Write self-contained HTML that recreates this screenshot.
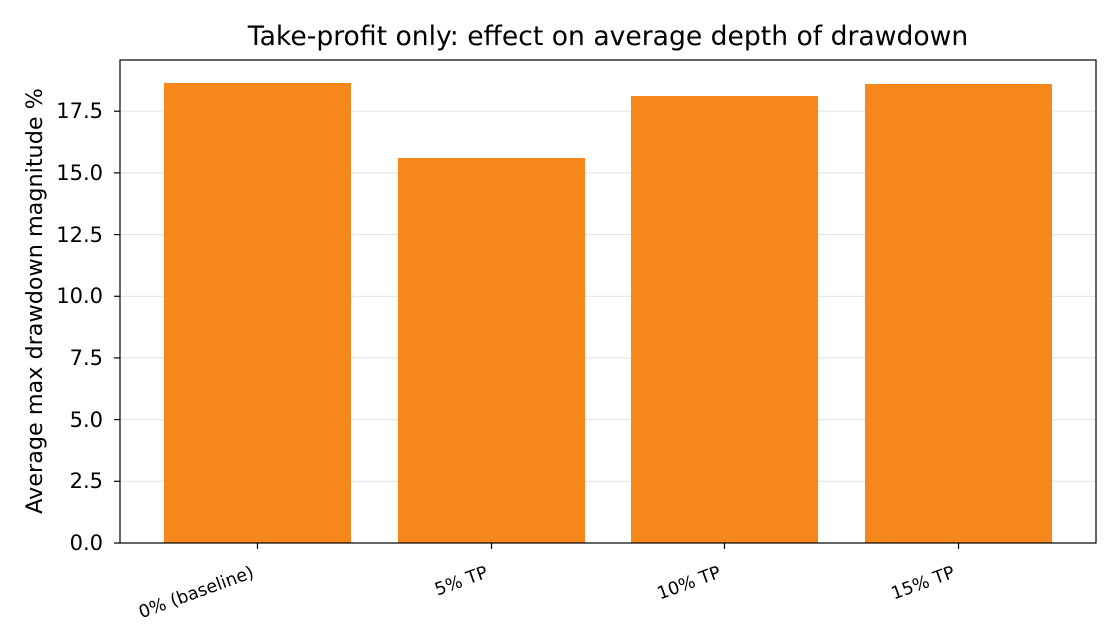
<!DOCTYPE html>
<html><head><style>body{margin:0;background:#fff}svg{display:block}</style></head><body>
<svg width="1120" height="640" xmlns="http://www.w3.org/2000/svg" font-family="'DejaVu Sans','Liberation Sans',sans-serif">
<rect width="1120" height="640" fill="#fff"/>
<g stroke="#e6e6e6" stroke-width="1.2">
<line x1="120" x2="1096" y1="481.3" y2="481.3"/><line x1="120" x2="1096" y1="419.6" y2="419.6"/>
<line x1="120" x2="1096" y1="357.9" y2="357.9"/><line x1="120" x2="1096" y1="296.3" y2="296.3"/>
<line x1="120" x2="1096" y1="234.6" y2="234.6"/><line x1="120" x2="1096" y1="172.9" y2="172.9"/>
<line x1="120" x2="1096" y1="111.2" y2="111.2"/>
</g>
<g fill="#f5871b">
<rect x="164" y="83" width="187" height="460"/>
<rect x="398" y="158" width="187" height="385"/>
<rect x="631" y="96" width="187" height="447"/>
<rect x="865" y="84" width="187" height="459"/>
</g>
<rect x="120" y="60" width="976" height="483" fill="none" stroke="#000" stroke-width="1.2"/>
<g stroke="#000" stroke-width="1.2">
<line x1="114" x2="120" y1="543" y2="543"/><line x1="114" x2="120" y1="481.3" y2="481.3"/>
<line x1="114" x2="120" y1="419.6" y2="419.6"/><line x1="114" x2="120" y1="357.9" y2="357.9"/>
<line x1="114" x2="120" y1="296.3" y2="296.3"/><line x1="114" x2="120" y1="234.6" y2="234.6"/>
<line x1="114" x2="120" y1="172.9" y2="172.9"/><line x1="114" x2="120" y1="111.2" y2="111.2"/>
<line x1="257.5" x2="257.5" y1="543" y2="549"/><line x1="491.5" x2="491.5" y1="543" y2="549"/>
<line x1="724.5" x2="724.5" y1="543" y2="549"/><line x1="958.5" x2="958.5" y1="543" y2="549"/>
</g>
<g font-size="21" text-anchor="end" fill="#000">
<text x="103" y="550">0.0</text><text x="103" y="488">2.5</text><text x="103" y="427">5.0</text>
<text x="103" y="365">7.5</text><text x="103" y="303">10.0</text><text x="103" y="242">12.5</text>
<text x="103" y="180">15.0</text><text x="103" y="118">17.5</text>
</g>
<g font-size="17.6" text-anchor="end" fill="#000">
<text transform="translate(255,577) rotate(-20)">0% (baseline)</text>
<text transform="translate(489,577) rotate(-20)">5% TP</text>
<text transform="translate(722,577) rotate(-20)">10% TP</text>
<text transform="translate(956,577) rotate(-20)">15% TP</text>
</g>
<text x="608" y="45" font-size="26.6" text-anchor="middle">Take-profit only: effect on average depth of drawdown</text>
<text transform="translate(42,301) rotate(-90)" font-size="22.3" text-anchor="middle">Average max drawdown magnitude %</text>
</svg>
</body></html>
